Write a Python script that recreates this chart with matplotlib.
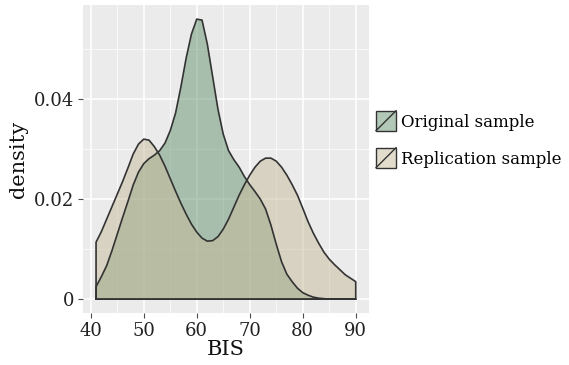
import matplotlib.pyplot as plt
from matplotlib.patches import Patch, Rectangle
from matplotlib.lines import Line2D
from matplotlib.legend_handler import HandlerBase

# density estimates of BIS scores, read at whole-number BIS values
bis = list(range(41, 91))
original = [0.0025, 0.0045, 0.0067, 0.0097, 0.0130, 0.0163, 0.0195, 0.0228, 0.0254, 0.0271,
            0.0281, 0.0288, 0.0297, 0.0312, 0.0337, 0.0372, 0.0424, 0.0482, 0.0530, 0.0560,
            0.0558, 0.0510, 0.0445, 0.0380, 0.0330, 0.0297, 0.0279, 0.0264, 0.0245, 0.0229,
            0.0215, 0.0200, 0.0180, 0.0148, 0.0110, 0.0075, 0.0050, 0.0035, 0.0022, 0.0013,
            0.0008, 0.0004, 0.0002, 0.0001, 0.0, 0.0, 0.0, 0.0, 0.0, 0.0]
replication = [0.0114, 0.0135, 0.0160, 0.0185, 0.0210, 0.0235, 0.0262, 0.0290, 0.0310, 0.0320,
               0.0318, 0.0305, 0.0288, 0.0266, 0.0241, 0.0216, 0.0192, 0.0170, 0.0150, 0.0134,
               0.0122, 0.0116, 0.0117, 0.0125, 0.0140, 0.0160, 0.0184, 0.0208, 0.0229, 0.0248,
               0.0264, 0.0276, 0.0282, 0.0282, 0.0276, 0.0264, 0.0248, 0.0229, 0.0208, 0.0182,
               0.0155, 0.0132, 0.0112, 0.0094, 0.0080, 0.0069, 0.0059, 0.0049, 0.0042, 0.0035]
groups = ["Original sample", "Replication sample"]
colors = ["#67936f", "#c7bb9b"]

plt.rcParams["font.family"] = ["DejaVu Serif"]

fig = plt.figure(figsize=(5.69, 3.65), dpi=100)
ax = fig.add_axes([0.146, 0.142, 0.502, 0.844])
ax.set_facecolor("#ebebeb")


def closed(xs, ys):
    return [xs[0]] + xs + [xs[-1]], [0] + ys + [0]


for ys, c in zip([original, replication], colors):
    px, py = closed(bis, ys)
    ax.fill(px, py, facecolor=c, alpha=0.5, edgecolor="none")
    ax.plot(px + [px[0]], py + [py[0]], color="#333333", lw=1.2, solid_joinstyle="round")

span = max(bis) - min(bis)
top = max(max(original), max(replication))
ax.set_xlim(min(bis) - 0.05 * span, max(bis) + 0.05 * span)
ax.set_ylim(-0.05 * top, 1.05 * top)
ax.set_xticks([40, 50, 60, 70, 80, 90])
ax.set_xticks([45, 55, 65, 75, 85], minor=True)
ax.set_yticks([0, 0.02, 0.04])
ax.set_yticklabels(["0", "0.02", "0.04"])
ax.set_yticks([0.01, 0.03, 0.05], minor=True)
ax.grid(which="major", color="white", lw=1.1)
ax.grid(which="minor", color="white", lw=0.5)
ax.set_axisbelow(True)
for s in ax.spines.values():
    s.set_visible(False)
ax.tick_params(which="major", length=3.5, color="#4d4d4d", labelsize=13, labelcolor="#222222", pad=3)
ax.tick_params(which="minor", length=0)
ax.set_xlabel("BIS", fontsize=15, labelpad=0, color="#111111")
ax.set_ylabel("density", fontsize=15, labelpad=4, color="#111111")


class KeyHandler(HandlerBase):
    # filled square with a diagonal stroke, like a density legend key
    def create_artists(self, legend, orig_handle, xd, yd, w, h, fontsize, trans):
        cy = -yd + h / 2
        x0, y0 = -xd, cy - w / 2
        box = Rectangle((x0, y0), w, w, facecolor=orig_handle.get_facecolor(),
                        edgecolor="#333333", lw=1.0, transform=trans)
        diag = Line2D([x0, x0 + w], [y0, y0 + w], color="#333333", lw=1.0, transform=trans)
        return [box, diag]


handles = [Patch(facecolor=c, alpha=0.5) for c in colors]
leg = fig.legend(handles, groups, handler_map={Patch: KeyHandler()},
                 loc="center left", bbox_to_anchor=(0.655, 0.615), frameon=False,
                 fontsize=12, handlelength=1.2, handleheight=0.7, handletextpad=0.3,
                 labelspacing=1.2, borderpad=0.2, borderaxespad=0)

fig.savefig("out.png", dpi=100)
